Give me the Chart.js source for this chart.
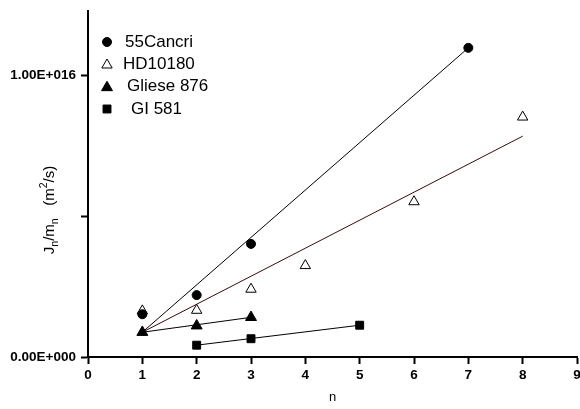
<!DOCTYPE html>
<html>
<head>
<meta charset="utf-8">
<script src="https://cdn.jsdelivr.net/npm/chart.js@4/dist/chart.umd.min.js"></script>
<style>
  html, body { margin: 0; padding: 0; background: #fff; }
  #wrap { width: 580px; height: 409px; }
</style>
</head>
<body>
<div id="wrap"><canvas id="chart"></canvas></div>
<script>
// measured points, J_n/m_n in m^2/s
const cancriN = [1, 2, 3, 7];
const cancriJ = [0.152e16, 0.220e16, 0.402e16, 1.099e16];
const hdN = [1, 2, 3, 4, 6, 8];
const hdJ = [0.164e16, 0.166e16, 0.241e16, 0.325e16, 0.552e16, 0.853e16];
const glieseN = [1, 2, 3];
const glieseJ = [0.088e16, 0.111e16, 0.141e16];
const gl581N = [2, 3, 5];
const gl581J = [0.042e16, 0.065e16, 0.113e16];

// fitted lines (end points)
const cancriFitN = [1, 7];
const cancriFitJ = [0.088e16, 1.099e16];
const hdFitN = [1, 8];
const hdFitJ = [0.088e16, 0.785e16];
const glieseFitN = [1, 3];
const glieseFitJ = [0.088e16, 0.141e16];
const gl581FitN = [2, 5];
const gl581FitJ = [0.042e16, 0.113e16];

const seriesNames = ['55Cancri', 'HD10180', 'Gliese 876', 'GI 581'];
const xTicks = [0, 1, 2, 3, 4, 5, 6, 7, 8, 9];
const yTicks = [0, 5e15, 1e16];
const yTickLabels = { 0: '0.00E+000', 1e16: '1.00E+016' };

const pts = (xs, ys) => xs.map((x, i) => ({ x: x, y: ys[i] }));

function fitLine(xs, ys, color) {
  return {
    data: pts(xs, ys), showLine: true, borderColor: color, borderWidth: 1,
    pointRadius: 0, order: 10
  };
}

const markers = [
  { style: 'circle', r: 4.5, fill: '#000' },
  { style: 'triangle', r: 6, fill: '#fff' },
  { style: 'triangle', r: 6.3, fill: '#000' },
  { style: 'rect', r: 5.6, fill: '#000' }
];

function drawMarker(ctx, m, x, y) {
  ctx.save();
  ctx.beginPath();
  if (m.style === 'circle') {
    ctx.arc(x, y, m.r, 0, Math.PI * 2);
  } else if (m.style === 'triangle') {
    ctx.moveTo(x, y - m.r);
    ctx.lineTo(x + m.r * 0.866, y + m.r / 2);
    ctx.lineTo(x - m.r * 0.866, y + m.r / 2);
    ctx.closePath();
  } else {
    const s = m.r * Math.SQRT1_2;
    ctx.rect(x - s, y - s, s * 2, s * 2);
  }
  ctx.fillStyle = m.fill;
  ctx.fill();
  ctx.lineWidth = 1;
  ctx.strokeStyle = '#000';
  ctx.stroke();
  ctx.restore();
}

const extras = {
  id: 'extras',
  afterDraw(chart) {
    const ctx = chart.ctx;
    // legend
    const legendY = [42, 64, 86.5, 109];
    const textX = [125, 123, 127, 131];
    ctx.save();
    ctx.font = '17px "Liberation Sans", Arial, sans-serif';
    ctx.fillStyle = '#000';
    ctx.textBaseline = 'middle';
    seriesNames.forEach((name, i) => {
      drawMarker(ctx, markers[i], 107, legendY[i] + (markers[i].style === 'triangle' ? 1 : 0));
      ctx.fillText(name, textX[i], legendY[i]);
    });
    ctx.restore();

    // y axis title with sub/superscripts
    const parts = [
      { t: 'J', k: 0 }, { t: 'n', k: -1 }, { t: '/m', k: 0 }, { t: 'n', k: -1 },
      { t: '   (m', k: 0 }, { t: '2', k: 1 }, { t: '/s)', k: 0 }
    ];
    const fs = 15;
    const big = fs + 'px "Liberation Sans", Arial, sans-serif';
    const small = (fs * 0.7) + 'px "Liberation Sans", Arial, sans-serif';
    ctx.save();
    let total = 0;
    parts.forEach(p => {
      ctx.font = p.k ? small : big;
      p.w = ctx.measureText(p.t).width;
      total += p.w;
    });
    ctx.translate(49, 210);
    ctx.rotate(-Math.PI / 2);
    ctx.fillStyle = '#000';
    ctx.textBaseline = 'alphabetic';
    let x = -total / 2;
    parts.forEach(p => {
      ctx.font = p.k ? small : big;
      ctx.fillText(p.t, x, 5 + (p.k < 0 ? 4 : p.k > 0 ? -7 : 0));
      x += p.w;
    });
    ctx.restore();
  }
};

const ds = [
  { label: seriesNames[0], data: pts(cancriN, cancriJ), pointStyle: 'circle', pointRadius: 4.5,
    backgroundColor: '#000', borderColor: '#000', borderWidth: 1, order: 1 },
  { label: seriesNames[1], data: pts(hdN, hdJ), pointStyle: 'triangle', pointRadius: 6,
    backgroundColor: '#fff', borderColor: '#000', borderWidth: 1, order: 2 },
  { label: seriesNames[2], data: pts(glieseN, glieseJ), pointStyle: 'triangle', pointRadius: 6.3,
    backgroundColor: '#000', borderColor: '#000', borderWidth: 1, order: 0 },
  { label: seriesNames[3], data: pts(gl581N, gl581J), pointStyle: 'rect', pointRadius: 5.6,
    backgroundColor: '#000', borderColor: '#000', borderWidth: 1, order: 0 },
  fitLine(cancriFitN, cancriFitJ, '#000'),
  fitLine(hdFitN, hdFitJ, '#3a0c0c'),
  fitLine(glieseFitN, glieseFitJ, '#000'),
  fitLine(gl581FitN, gl581FitJ, '#000')
];

const fam = '"Liberation Sans", Arial, sans-serif';

new Chart(document.getElementById('chart'), {
  type: 'scatter',
  data: { datasets: ds },
  options: {
    responsive: true,
    maintainAspectRatio: false,
    animation: false,
    events: [],
    layout: { autoPadding: false, padding: { top: 11, right: 3, left: 0, bottom: 0 } },
    plugins: { legend: { display: false }, tooltip: { enabled: false } },
    scales: {
      x: {
        type: 'linear', min: 0, max: 9,
        afterFit: s => {
          s.height = 52;
          // let the "9" label hang over the right edge like the original
          s.paddingLeft = 0;
          s.paddingRight = 0;
          if (s._margins) { s._margins.left = 0; s._margins.right = 0; }
        },
        afterBuildTicks: s => { s.ticks = xTicks.map(v => ({ value: v })); },
        ticks: { color: '#000', font: { family: fam, size: 13.5, weight: 'bold' }, padding: 3, maxRotation: 0 },
        grid: { drawOnChartArea: false, tickLength: 7, tickWidth: 2, tickColor: '#000' },
        border: { color: '#000', width: 2 },
        title: { display: true, text: 'n', color: '#000', padding: { top: 0, bottom: 4 },
          font: { family: fam, size: 13 } }
      },
      y: {
        type: 'linear', min: 0, max: 1.23e16,
        afterFit: s => {
          s.width = 88;
          s.paddingTop = 0;
          if (s._margins) { s._margins.top = 0; }
        },
        afterBuildTicks: s => { s.ticks = yTicks.map(v => ({ value: v })); },
        ticks: { color: '#000', font: { family: fam, size: 13.5, weight: 'bold' }, padding: 5,
          callback: v => yTickLabels[v] || '' },
        grid: { drawOnChartArea: false, tickLength: 7, tickWidth: 2, tickColor: '#000' },
        border: { color: '#000', width: 2 }
      }
    }
  },
  plugins: [extras]
});
</script>
</body>
</html>
